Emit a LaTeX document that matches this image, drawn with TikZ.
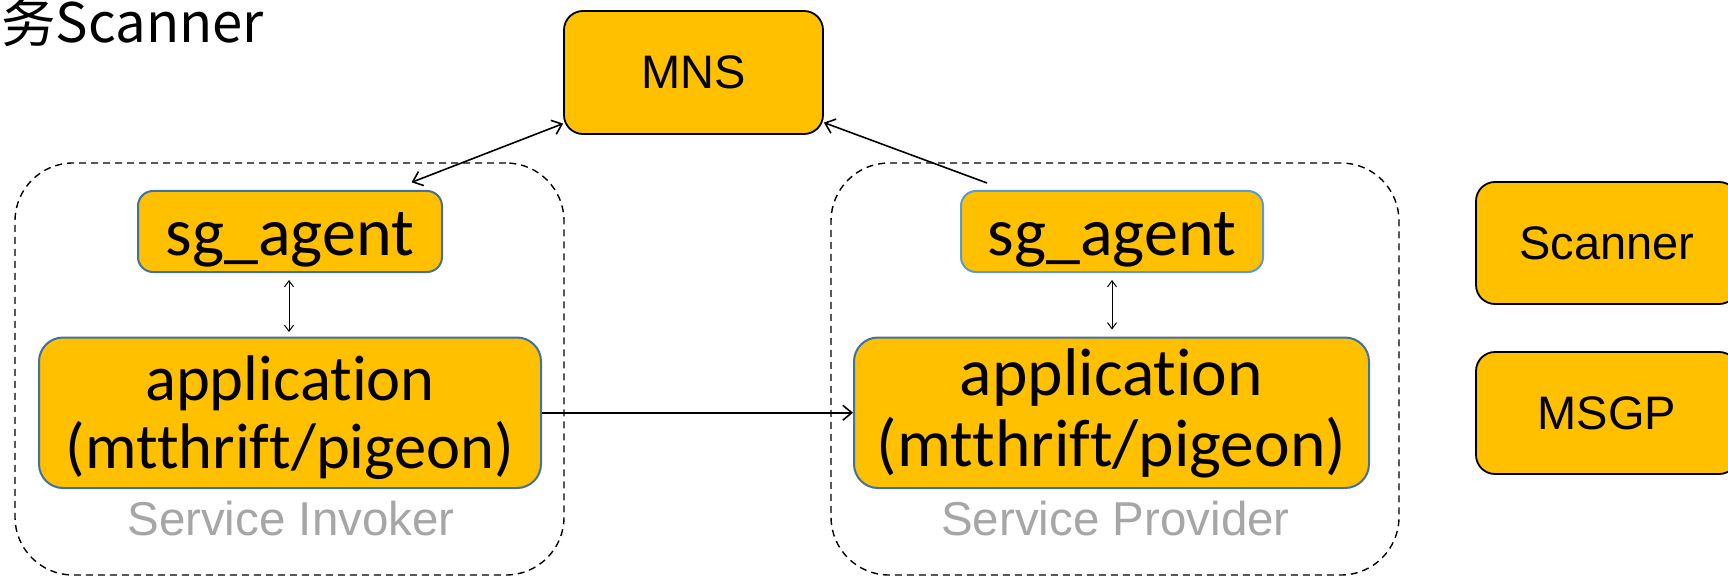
\documentclass[tikz,border=0pt]{standalone}
\usepackage{fontspec}
\usetikzlibrary{arrows.meta}
\newfontfamily\calibf[Ligatures={NoCommon,NoRare,NoContextual}]{Carlito}
\newfontfamily\arialf{Liberation Sans}
\newfontfamily\cjkf{Noto Sans CJK SC}
\definecolor{boxfill}{HTML}{FFC000}
\definecolor{bluedark}{HTML}{41719C}
\definecolor{bluelight}{HTML}{5B9BD5}
\definecolor{greytext}{HTML}{A6A6A6}
\newcommand{\twolines}[4]{\raisebox{0pt}[#4][0pt]{\vbox{\baselineskip=#3\lineskiplimit=-100pt\halign{\hfil##\hfil\cr #1\cr #2\cr}}}}
\tikzset{
  blackbox/.style={draw=black, line width=1.8pt, fill=boxfill, rounded corners=19pt, inner sep=0pt, font=\arialf\fontsize{47}{50}\selectfont},
  agentbox/.style={draw=bluedark, line width=2pt, fill=boxfill, rounded corners=15pt, inner sep=0pt, minimum width=304pt, minimum height=81pt, text height=47pt, text depth=0pt, font=\calibf\fontsize{68}{70}\selectfont},
  appbox/.style={draw=bluedark, line width=2pt, fill=boxfill, rounded corners=24pt, inner sep=0pt, minimum height=150.5pt},
  container/.style={draw=black, line width=1.4pt, dash pattern=on 7pt off 5pt, rounded corners=58pt, inner sep=0pt},
  rolelabel/.style={text=greytext, font=\arialf\fontsize{47.5}{50}\selectfont, inner sep=0pt, anchor=base},
  mainarrow/.style={line width=1.6pt, -{Straight Barb[length=9pt,width=15pt,line width=1.6pt]}},
  mainbiarrow/.style={line width=1.6pt, {Straight Barb[length=9pt,width=15pt,line width=1.6pt]}-{Straight Barb[length=9pt,width=15pt,line width=1.6pt]}},
  smallbiarrow/.style={line width=1pt, {Straight Barb[length=6pt,width=9pt,line width=1pt]}-{Straight Barb[length=6pt,width=9pt,line width=1pt]}}
}
\begin{document}
\begin{tikzpicture}[x=1pt,y=-1pt]
\useasboundingbox (0,0) rectangle (1728,577);
\fill[white] (0,0) rectangle (1728,577);
% title
\node[anchor=base east, inner sep=0pt, font=\cjkf\fontsize{54.5}{58}\selectfont] (title) at (264,43) {服务Scanner};
% containers
\node[container, minimum width=549pt, minimum height=412pt] (invoker) at (289.5,369) {};
\node[container, minimum width=568pt, minimum height=412pt] (provider) at (1115,369) {};
% MNS
\node[blackbox, minimum width=259pt, minimum height=123pt] (mns) at (693.5,72.5) {MNS};
% sg_agents
\node[agentbox] (sgl) at (290,231.5) {sg\_agent};
\node[agentbox, draw=bluelight, minimum width=302pt] (sgr) at (1112,231.5) {sg\_agent};
% applications
\node[appbox, minimum width=502pt, font=\calibf\fontsize{64.5}{68}\selectfont] (appl) at (290,412.75) {\twolines{application}{(mtthrift/pigeon)}{68pt}{110.5pt}};
\node[appbox, minimum width=515pt, font=\calibf\fontsize{67.5}{71}\selectfont] (appr) at (1111.5,412.75) {\twolines{application}{(mtthrift/pigeon)}{71pt}{108pt}};
% role labels
\node[rolelabel] (invlabel) at (291,535) {Service Invoker};
\node[rolelabel] (provlabel) at (1115.5,535) {Service Provider};
% right boxes
\node[blackbox, minimum width=262pt, minimum height=122pt] (scanner) at (1607,243) {Scanner};
\node[blackbox, minimum width=262pt, minimum height=122pt] (msgp) at (1607,413) {MSGP};
% connectors
\draw[mainbiarrow] ([yshift=11.3pt]mns.south west) -- ([xshift=-31.4pt,yshift=7.7pt]sgl.north east);
\draw[mainarrow] ([xshift=27pt,yshift=7pt]sgr.north west) -- ([yshift=12.3pt]mns.south east);
\draw[mainarrow] (appl.east) -- (appr.west);
\draw[smallbiarrow] ([xshift=-1pt,yshift=-7pt]sgl.south) -- ([xshift=-1pt,yshift=4.5pt]appl.north);
\draw[smallbiarrow] ([yshift=-7pt]sgr.south) -- ([xshift=0.5pt,yshift=7pt]appr.north);
\end{tikzpicture}
\end{document}
